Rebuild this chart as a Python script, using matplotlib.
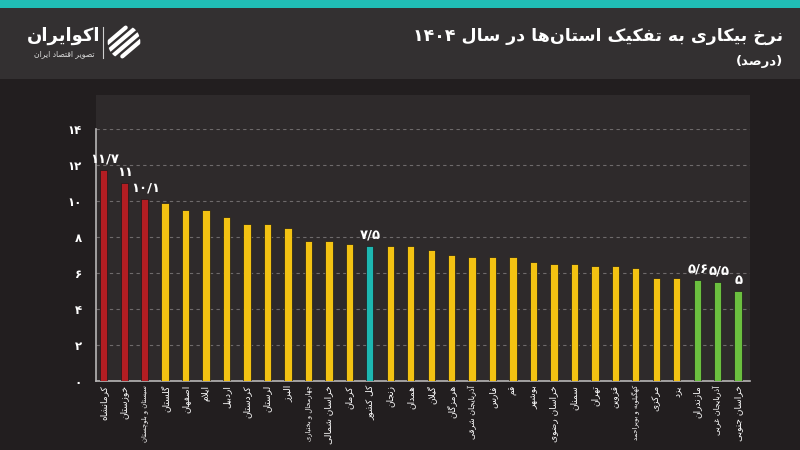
import matplotlib
matplotlib.use("Agg")
import matplotlib.pyplot as plt
from matplotlib.patches import Rectangle, Circle
import numpy as np

# ---------------- data ----------------
provinces = ["کرمانشاه", "خوزستان", "سیستان و بلوچستان", "گلستان", "اصفهان", "ایلام",
             "اردبیل", "کردستان", "لرستان", "البرز", "چهارمحال و بختیاری", "خراسان شمالی",
             "کرمان", "کل کشور", "زنجان", "همدان", "گیلان", "هرمزگان", "آذربایجان شرقی",
             "فارس", "قم", "بوشهر", "خراسان رضوی", "سمنان", "تهران", "قزوین",
             "کهگیلویه و بویراحمد", "مرکزی", "یزد", "مازندران", "آذربایجان غربی", "خراسان جنوبی"]
rates = [11.7, 11.0, 10.1, 9.9, 9.5, 9.5, 9.1, 8.7, 8.7, 8.5, 7.8, 7.8, 7.6, 7.5, 7.5, 7.5,
         7.3, 7.0, 6.9, 6.9, 6.9, 6.6, 6.5, 6.5, 6.4, 6.4, 6.3, 5.7, 5.7, 5.6, 5.5, 5.0]
groups = ["high"] * 3 + ["mid"] * 10 + ["avg"] + ["mid"] * 15 + ["low"] * 3
y_ticks = [0, 2, 4, 6, 8, 10, 12, 14]
title = "نرخ بیکاری به تفکیک استان\u200cها در سال ۱۴۰۴"
subtitle = "(درصد)"
brand = "اکوایران"
brand_sub = "تصویر اقتصاد ایران"

group_colors = {"high": "#b31d22", "mid": "#f3c212", "avg": "#1db7b1", "low": "#6bbf3f"}

# ---------------- minimal Persian shaping ----------------
DUAL = {
    'ب': (0xFE8F, 0xFE90, 0xFE91, 0xFE92), 'پ': (0xFB56, 0xFB57, 0xFB58, 0xFB59),
    'ت': (0xFE95, 0xFE96, 0xFE97, 0xFE98), 'ث': (0xFE99, 0xFE9A, 0xFE9B, 0xFE9C),
    'ج': (0xFE9D, 0xFE9E, 0xFE9F, 0xFEA0), 'چ': (0xFB7A, 0xFB7B, 0xFB7C, 0xFB7D),
    'ح': (0xFEA1, 0xFEA2, 0xFEA3, 0xFEA4), 'خ': (0xFEA5, 0xFEA6, 0xFEA7, 0xFEA8),
    'س': (0xFEB1, 0xFEB2, 0xFEB3, 0xFEB4), 'ش': (0xFEB5, 0xFEB6, 0xFEB7, 0xFEB8),
    'ص': (0xFEB9, 0xFEBA, 0xFEBB, 0xFEBC), 'ض': (0xFEBD, 0xFEBE, 0xFEBF, 0xFEC0),
    'ط': (0xFEC1, 0xFEC2, 0xFEC3, 0xFEC4), 'ظ': (0xFEC5, 0xFEC6, 0xFEC7, 0xFEC8),
    'ع': (0xFEC9, 0xFECA, 0xFECB, 0xFECC), 'غ': (0xFECD, 0xFECE, 0xFECF, 0xFED0),
    'ف': (0xFED1, 0xFED2, 0xFED3, 0xFED4), 'ق': (0xFED5, 0xFED6, 0xFED7, 0xFED8),
    'ک': (0xFB8E, 0xFB8F, 0xFB90, 0xFB91), 'گ': (0xFB92, 0xFB93, 0xFB94, 0xFB95),
    'ل': (0xFEDD, 0xFEDE, 0xFEDF, 0xFEE0), 'م': (0xFEE1, 0xFEE2, 0xFEE3, 0xFEE4),
    'ن': (0xFEE5, 0xFEE6, 0xFEE7, 0xFEE8), 'ه': (0xFEE9, 0xFEEA, 0xFEEB, 0xFEEC),
    'ی': (0xFBFC, 0xFBFD, 0xFBFE, 0xFBFF),
}
RIGHT = {
    'ا': (0xFE8D, 0xFE8E), 'آ': (0xFE81, 0xFE82), 'د': (0xFEA9, 0xFEAA),
    'ذ': (0xFEAB, 0xFEAC), 'ر': (0xFEAD, 0xFEAE), 'ز': (0xFEAF, 0xFEB0),
    'ژ': (0xFB8A, 0xFB8B), 'و': (0xFEED, 0xFEEE),
    'لا': (0xFEFB, 0xFEFC), 'لآ': (0xFEF5, 0xFEF6),
}
DIGITS = set("0123456789۰۱۲۳۴۵۶۷۸۹/.")
MIRROR = {'(': ')', ')': '('}


def fa(s):
    tokens = []
    i = 0
    while i < len(s):
        if s[i] == 'ل' and i + 1 < len(s) and s[i + 1] in 'اآ':
            tokens.append(s[i:i + 2]); i += 2
        else:
            tokens.append(s[i]); i += 1
    shaped = []
    for k, t in enumerate(tokens):
        p = tokens[k - 1] if k > 0 else None
        nx = tokens[k + 1] if k + 1 < len(tokens) else None
        cp = p in DUAL and (t in DUAL or t in RIGHT)
        cn = t in DUAL and (nx in DUAL or nx in RIGHT)
        if t in DUAL:
            iso, fin, ini, med = DUAL[t]
            g = med if (cp and cn) else fin if cp else ini if cn else iso
            shaped.append(chr(g))
        elif t in RIGHT:
            iso, fin = RIGHT[t]
            shaped.append(chr(fin if cp else iso))
        elif t == '\u200c':
            continue
        else:
            shaped.append(t)
    runs = []
    for c in shaped:
        d = c in DIGITS
        if runs and runs[-1][0] == d:
            runs[-1][1].append(c)
        else:
            runs.append([d, [c]])
    out = ""
    for d, cs in reversed(runs):
        if d:
            out += "".join(cs)
        else:
            out += "".join(MIRROR.get(c, c) for c in reversed(cs))
    return out


def fa_num(v):
    s = f"{v:g}"
    return s.translate(str.maketrans("0123456789.", "۰۱۲۳۴۵۶۷۸۹/"))


FONT = ["DejaVu Sans"]
plt.rcParams['font.family'] = FONT

# ---------------- figure ----------------
W, H = 800, 450
fig = plt.figure(figsize=(8, 4.5), dpi=100)
fig.patch.set_facecolor("#221e1f")

def fx(px):
    return px / W

def fy(py):
    return 1 - py / H

# header band and top teal strip
fig.patches.append(Rectangle((0, fy(79)), 1, fy(8) - fy(79), transform=fig.transFigure,
                             facecolor="#333031", edgecolor="none", zorder=-10))
fig.patches.append(Rectangle((0, fy(8)), 1, 1 - fy(8), transform=fig.transFigure,
                             facecolor="#20bdb5", edgecolor="none", zorder=-10))
# chart panel
fig.patches.append(Rectangle((fx(96), fy(381)), fx(750) - fx(96), fy(95) - fy(381),
                             transform=fig.transFigure, facecolor="#2e2a2b",
                             edgecolor="none", zorder=-10))

# titles
fig.text(fx(783), fy(36), fa(title), ha="right", va="center", color="white",
         fontsize=12.5, fontweight="bold")
fig.text(fx(783), fy(61), fa(subtitle), ha="right", va="center", color="white",
         fontsize=9.5, fontweight="bold")

# logo
fig.text(fx(64), fy(36), fa(brand), ha="center", va="center", color="white",
         fontsize=13, fontweight="bold")
fig.text(fx(64), fy(54), fa(brand_sub), ha="center", va="center", color="#dddddd",
         fontsize=5.5)
fig.add_artist(plt.Line2D([fx(103), fx(103)], [fy(27), fy(58)], transform=fig.transFigure,
                          color="#cfcfcf", lw=0.8))
lax = fig.add_axes([fx(107), fy(60), fx(34), fy(24) - fy(60)])
lax.set_xlim(0, 1); lax.set_ylim(0, 1); lax.axis("off")
clip = Circle((0.5, 0.5), 0.48, transform=lax.transData)
for off in [-0.45, -0.15, 0.15, 0.45]:
    ln, = lax.plot([0.0 + off, 1.0 + off], [0.1, 0.9], color="white", lw=3.0,
                   solid_capstyle="round")
    ln.set_clip_path(clip)

# ---------------- main axes ----------------
ax = fig.add_axes([fx(96), fy(381), fx(750) - fx(96), fy(129) - fy(381)])
ax.set_facecolor("none")
x = np.arange(len(provinces))
colors = [group_colors[g] for g in groups]
ax.bar(x, rates, width=0.36, color=colors, edgecolor="#1d1a1b", linewidth=0.5, zorder=3)

for xi, v, g in zip(x, rates, groups):
    if g != "mid":
        ax.text(xi + 0.05, v + 0.25, fa_num(v), ha="center", va="bottom", color="white",
                fontsize=9.5, fontweight="bold", zorder=4)

ax.set_xlim(-0.38, 31.58)
ax.set_ylim(0, 14)
ax.set_yticks(y_ticks)
ax.set_yticklabels([fa_num(t) for t in y_ticks], color="white", fontsize=8.5,
                   fontweight="bold")
ax.set_xticks(x)
ax.set_xticklabels([fa(p) for p in provinces], rotation=90, ha="center", va="top",
                   color="white", fontsize=6.5)
for lbl, name in zip(ax.get_xticklabels(), provinces):
    if len(name) > 15:
        lbl.set_fontsize(4.9)
    elif len(name) > 12:
        lbl.set_fontsize(5.8)
ax.tick_params(axis="both", length=0)
ax.tick_params(axis="y", pad=10)
ax.tick_params(axis="x", pad=3)
ax.grid(axis="y", color="#6e6a6b", linestyle=(0, (3, 3)), linewidth=0.8, zorder=0)
ax.set_axisbelow(True)
for s in ["top", "right"]:
    ax.spines[s].set_visible(False)
for s in ["left", "bottom"]:
    ax.spines[s].set_color("#b8b6b6")
    ax.spines[s].set_linewidth(1.2)

fig.savefig("out.png", dpi=100, facecolor=fig.get_facecolor())
